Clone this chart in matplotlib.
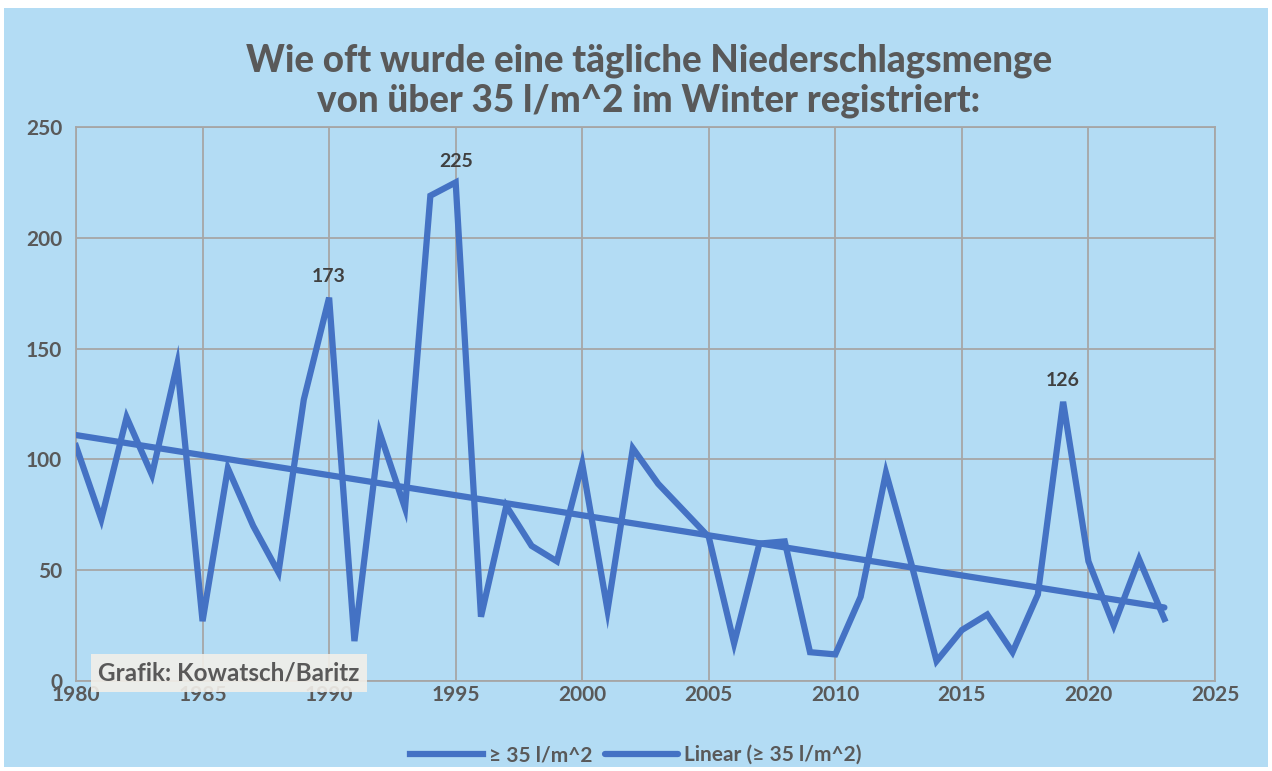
import matplotlib.pyplot as plt
import matplotlib.patches as mpatches
import numpy as np

plt.rcParams['font.family'] = ['Lato', 'DejaVu Sans']

# data
years = list(range(1980, 2024))
counts = [106, 73, 119, 93, 143, 27, 96, 70, 49, 127,
          173, 18, 112, 78, 219, 225, 29, 79, 61, 54,
          98, 32, 105, 89, 77, 65, 17, 62, 63, 13,
          12, 38, 94, 53, 9, 23, 30, 13, 39, 126,
          54, 25, 55, 28]
labelled = {1990: 173, 1995: 225, 2019: 126}
title = "Wie oft wurde eine tägliche Niederschlagsmenge\nvon über 35 l/m^2 im Winter registriert:"
series_name = "≥ 35 l/m^2"
trend_name = "Linear (≥ 35 l/m^2)"

bg = "#b3dcf4"
blue = "#4472c4"
txt = "#595959"
grid = "#a6a6a6"

fig = plt.figure(figsize=(12.72, 7.71), dpi=100, facecolor="white")
# light blue panel with thin white border
fig.patches.append(mpatches.Rectangle((4 / 1272, 4 / 771), 1264 / 1272, 759 / 771,
                                      transform=fig.transFigure, facecolor=bg,
                                      edgecolor="none", zorder=-10))

ax = fig.add_axes([76 / 1272, 1 - 681 / 771, (1215 - 76) / 1272, (681 - 127) / 771])
ax.set_facecolor(bg)

ax.plot(years, counts, color=blue, lw=4.5, solid_joinstyle="miter", label=series_name, zorder=3)

# linear trend
k, d = np.polyfit(years, counts, 1)
tx = np.array([years[0], years[-1]])
ax.plot(tx, k * tx + d, color=blue, lw=4.5, solid_capstyle="round", label=trend_name, zorder=3)

for yr, v in labelled.items():
    ax.annotate(str(v), (yr, v), xytext=(0, 9), textcoords="offset points",
                ha="center", va="bottom", fontsize=14, fontweight="bold", color="#404040")

ax.set_xlim(1980, 2025)
ax.set_ylim(0, 250)
ax.set_xticks(range(1980, 2026, 5))
ax.set_yticks(range(0, 251, 50))
ax.grid(True, color=grid, lw=1.3)
ax.set_axisbelow(True)
for s in ax.spines.values():
    s.set_color(grid)
    s.set_linewidth(1.3)
ax.tick_params(length=0, labelsize=15, colors=txt, pad=3)
for lab in ax.get_xticklabels() + ax.get_yticklabels():
    lab.set_fontweight("bold")
ax.tick_params(axis="y", pad=10)

fig.text(0.51, 0.895, title, ha="center", va="center", fontsize=26.5,
         fontweight="black", color=txt, linespacing=1.2)

fig.text(98 / 1272, 1 - 673 / 771, "Grafik: Kowatsch/Baritz", ha="left", va="center",
         fontsize=17.5, fontweight="bold", color=txt, zorder=10,
         bbox=dict(boxstyle="square,pad=0.3", facecolor="#f2efe9", edgecolor="none", alpha=0.9))

leg = fig.legend(loc="center", bbox_to_anchor=(0.5, 1 - 755 / 771), ncol=2, frameon=False,
                 fontsize=15, handlelength=3.5, columnspacing=0.6, handletextpad=0.3)
for t in leg.get_texts():
    t.set_color(txt)
    t.set_fontweight("bold")

fig.savefig("out.png", dpi=100, facecolor=fig.get_facecolor())
